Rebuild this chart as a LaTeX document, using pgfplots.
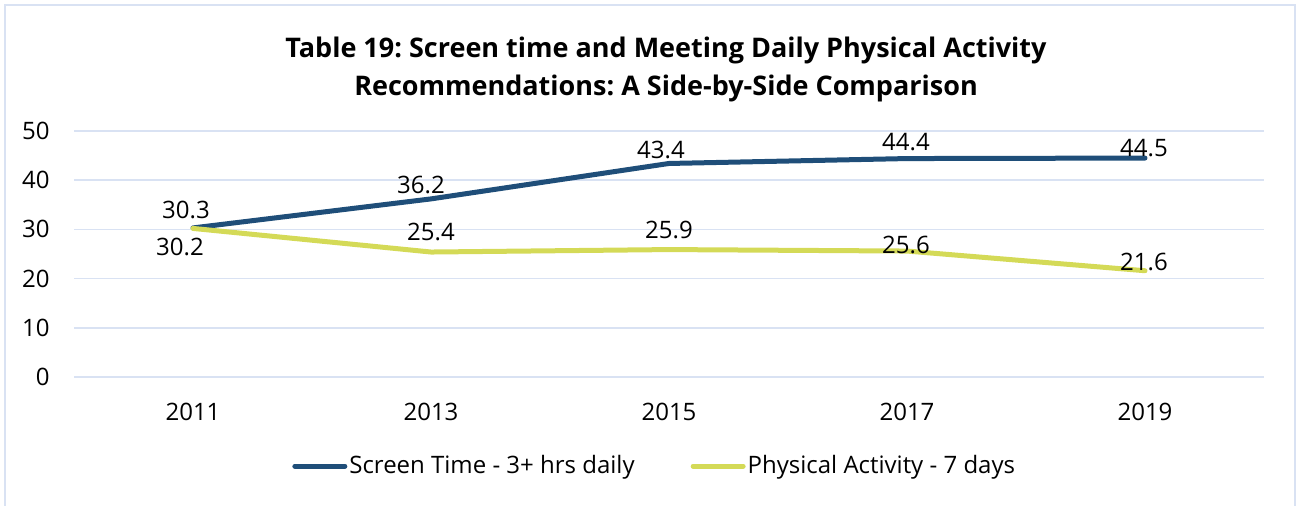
\documentclass[border=0pt]{standalone}
\usepackage{fontspec}
\setmainfont{Open Sans}
\usepackage{pgfplots}
\pgfplotsset{compat=1.18}
\usepackage{pgfplotstable}
\frenchspacing

\definecolor{screenblue}{HTML}{1F4E79}
\definecolor{activeyellow}{HTML}{D4DA57}
\definecolor{gridblue}{HTML}{D9E2F3}

% x = category index (2011..2019), dx/dy = label offset in pt
\pgfplotstableread{
x y dx dy lab
0 30.3 -3.5 9 30.3
1 36.2 -5 7 36.2
2 43.4 -4 6.75 43.4
3 44.4 -0.5 8.25 44.4
4 44.5 -0.5 5 44.5
}\screentime

\pgfplotstableread{
x y dx dy lab
0 30.2 -6.5 -9.5 30.2
1 25.4 0 10 25.4
2 25.9 0 9.8 25.9
3 25.6 -0.5 3 25.6
4 21.6 -0.5 4.4 21.6
}\activity

\begin{document}
\begin{tikzpicture}
\useasboundingbox (0,0) rectangle (648.5pt,-253pt);
\draw[gridblue, line width=1pt] (2.5pt,-253pt) -- (2.5pt,-2.5pt) -- (647.5pt,-2.5pt) -- (647.5pt,-253pt);

\node[anchor=base, font=\fontsize{13.5}{16}\selectfont\bfseries] at (333pt,-29pt)
  {Table 19: Screen time and Meeting Daily Physical Activity};
\node[anchor=base, font=\fontsize{13.5}{16}\selectfont\bfseries] at (333pt,-48pt)
  {Recommendations: A Side-by-Side Comparison};

\begin{axis}[
    at={(37pt,-188.5pt)},
    anchor=south west,
    scale only axis,
    width=595pt,
    height=123pt,
    xmin=-0.5, xmax=4.5,
    ymin=0, ymax=50,
    xtick={0,1,2,3,4},
    xticklabels={2011,2013,2015,2017,2019},
    ytick={0,10,20,30,40,50},
    ymajorgrids=true,
    grid style={gridblue, line width=0.9pt},
    axis line style={draw=none},
    major tick length=0pt,
    tick label style={font=\fontsize{12}{14}\selectfont, inner sep=0pt},
    /pgf/number format/assume math mode=true,
    yticklabel style={anchor=east, xshift=-12pt},
    xticklabel style={anchor=center, yshift=-17.5pt},
    clip=false,
    nodes near coords={\pgfplotspointmeta},
    point meta=explicit symbolic,
    visualization depends on={\thisrow{dx} \as \labdx},
    visualization depends on={\thisrow{dy} \as \labdy},
    nodes near coords style={anchor=center, font=\fontsize{12}{14}\selectfont,
        text=black, xshift=\labdx pt, yshift=\labdy pt, inner sep=0pt},
    legend style={at={(0.488,-0.362)}, anchor=center, legend columns=2, draw=none,
        font=\fontsize{12}{14}\selectfont,
        nodes={inner xsep=1pt},
        /tikz/every even column/.append style={column sep=27pt},
        /tikz/every odd column/.append style={column sep=0pt}},
    legend cell align=left,
    legend image code/.code={\draw[#1, line cap=round] (0pt,0pt) -- (25pt,0pt);},
]
\addplot[screenblue, line width=2.5pt, line cap=round, line join=round, mark=none]
  table[x=x, y=y, meta=lab] {\screentime};
\addlegendentry{Screen Time - 3+ hrs daily}
\addplot[activeyellow, line width=2.5pt, line cap=round, line join=round, mark=none]
  table[x=x, y=y, meta=lab] {\activity};
\addlegendentry{Physical Activity - 7 days}
\end{axis}
\end{tikzpicture}
\end{document}
